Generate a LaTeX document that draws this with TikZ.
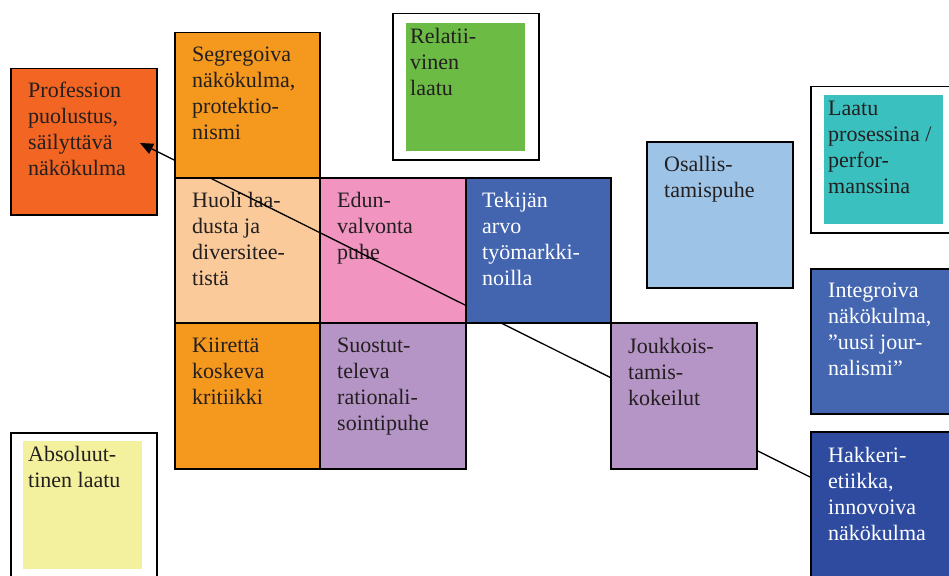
\documentclass[tikz,border=0pt]{standalone}
\usepackage{fontspec}
\setmainfont{Liberation Serif}
\usetikzlibrary{arrows.meta}
\definecolor{cprof}{HTML}{F26522}
\definecolor{corange}{HTML}{F5981E}
\definecolor{cpeach}{HTML}{FACA9A}
\definecolor{cpink}{HTML}{F195C0}
\definecolor{cblue}{HTML}{4364AF}
\definecolor{cpurple}{HTML}{B594C6}
\definecolor{clight}{HTML}{9DC3E6}
\definecolor{cteal}{HTML}{3BC0C0}
\definecolor{cinteg}{HTML}{4466B0}
\definecolor{cdark}{HTML}{2E4BA0}
\definecolor{cgreen}{HTML}{6BBB45}
\definecolor{cyellow}{HTML}{F3F19D}
\definecolor{ctext}{HTML}{231F20}
\begin{document}
\begin{tikzpicture}[x=1pt,y=-1pt,
  box/.style={draw=black,line width=1.5pt,rectangle,inner sep=0pt,anchor=north west},
  inbox/.style={draw=none,rectangle,inner sep=0pt,anchor=north west},
  txt/.style={anchor=north west,inner sep=0pt,align=left,text=ctext,
    font=\fontsize{22}{26}\selectfont},
  wtxt/.style={txt,text=white},
  conn/.style={draw=black,line width=1.3pt}]
\useasboundingbox (0,0) rectangle (949,575);
\clip (0,0) rectangle (949,575);
% frames with inner coloured boxes
\node[box,fill=white,minimum width=146pt,minimum height=146pt] (relF) at (392,13) {};
\node[inbox,fill=cgreen,minimum width=119pt,minimum height=128pt] (rel) at (406,23) {};
\node[txt] (relT) at (410,28) {Relatii-\\vinen\\laatu};
\node[box,fill=white,minimum width=160pt,minimum height=146pt] (laaF) at (810,86) {};
\node[inbox,fill=cteal,minimum width=119pt,minimum height=129pt] (laa) at (824,95) {};
\node[txt] (laaT) at (828,101) {Laatu\\prosessina /\\perfor-\\manssina};
\node[box,fill=white,minimum width=146pt,minimum height=160pt] (absF) at (10,432) {};
\node[inbox,fill=cyellow,minimum width=119pt,minimum height=128pt] (abs) at (23,441) {};
\node[txt] (absT) at (28,446) {Absoluut-\\tinen laatu};
% plain boxes
\node[box,fill=cprof,minimum width=146pt,minimum height=146pt] (prof) at (10,68) {};
\node[txt] (profT) at (28,82) {Profession\\puolustus,\\säilyttävä\\näkökulma};
\node[box,fill=clight,minimum width=146pt,minimum height=146pt] (osal) at (646,141) {};
\node[txt] (osalT) at (664,156) {Osallis-\\tamispuhe};
\node[box,fill=cinteg,minimum width=160pt,minimum height=145pt] (integ) at (810,268) {};
\node[wtxt] (integT) at (828,283) {Integroiva\\näkökulma,\\”uusi jour-\\nalismi”};
\node[box,fill=cdark,minimum width=160pt,minimum height=160pt] (hakk) at (810,431) {};
\node[wtxt] (hakkT) at (828,447) {Hakkeri-\\etiikka,\\innovoiva\\näkökulma};
\node[box,fill=cpeach,minimum width=145pt,minimum height=145pt] (huoli) at (174,177) {};
\node[txt] (huoliT) at (192,192) {Huoli laa-\\dusta ja\\diversitee-\\tistä};
\node[box,fill=cpink,minimum width=146pt,minimum height=145pt] (edun) at (319,177) {};
\node[txt] (edunT) at (337,192) {Edun-\\valvonta\\puhe};
\node[box,fill=corange,minimum width=145pt,minimum height=146pt] (kiir) at (174,322) {};
\node[txt] (kiirT) at (192,338) {Kiirettä\\koskeva\\kritiikki};
\node[box,fill=cpurple,minimum width=146pt,minimum height=146pt] (suos) at (319,322) {};
\node[txt] (suosT) at (337,338) {Suostut-\\televa\\rationali-\\sointipuhe};
% connector
\coordinate (tip) at (140,143);
\coordinate (lineend) at (810,477);
\draw[conn,-{Triangle[length=13pt,width=11pt]}] (lineend) -- (tip);
% boxes lying over the connector
\node[box,fill=corange,minimum width=145pt,minimum height=145pt] (seg) at (174,32) {};
\node[txt] (segT) at (192,47) {Segregoiva\\näkökulma,\\protektio-\\nismi};
\node[box,fill=cblue,minimum width=145pt,minimum height=145pt] (tek) at (465,177) {};
\node[wtxt] (tekT) at (482,192) {Tekijän\\arvo\\työmarkki-\\noilla};
\node[box,fill=cpurple,minimum width=146pt,minimum height=146pt] (jouk) at (610,322) {};
\node[txt] (joukT) at (628,338) {Joukkois-\\tamis-\\kokeilut};
\end{tikzpicture}
\end{document}
